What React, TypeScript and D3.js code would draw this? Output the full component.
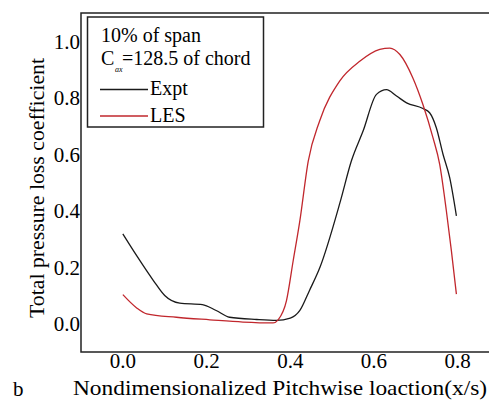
import React from "react";
import * as d3 from "d3";

const xTicks = [0.0, 0.2, 0.4, 0.6, 0.8];
const yTicks = [0.0, 0.2, 0.4, 0.6, 0.8, 1.0];

const exptX = [0, 0.033, 0.073, 0.1, 0.136, 0.19, 0.223, 0.255, 0.32, 0.367, 0.4, 0.423, 0.446, 0.471, 0.52, 0.546, 0.574, 0.606, 0.63, 0.654, 0.678, 0.717, 0.733, 0.749, 0.765, 0.781, 0.797];
const exptY = [0.318, 0.241, 0.153, 0.1, 0.073, 0.068, 0.047, 0.023, 0.015, 0.012, 0.02, 0.047, 0.118, 0.2, 0.435, 0.576, 0.682, 0.812, 0.829, 0.806, 0.782, 0.762, 0.747, 0.694, 0.6, 0.517, 0.382];

const lesX = [0, 0.033, 0.057, 0.128, 0.208, 0.287, 0.359, 0.371, 0.391, 0.407, 0.423, 0.443, 0.47, 0.518, 0.566, 0.614, 0.638, 0.662, 0.693, 0.717, 0.741, 0.757, 0.773, 0.785, 0.797];
const lesY = [0.103, 0.056, 0.035, 0.023, 0.014, 0.006, 0.003, 0.014, 0.082, 0.223, 0.365, 0.576, 0.717, 0.859, 0.929, 0.971, 0.976, 0.953, 0.87, 0.776, 0.659, 0.565, 0.4, 0.259, 0.105];

const FONT = '"Times New Roman"';

export default function App() {
  const W = 489, H = 401;
  const x = d3.scaleLinear().domain([-0.1, 0.9]).range([81, 81 + 418.5]);
  const y = d3.scaleLinear().domain([-0.1, 1.1]).range([352, 13]);
  const line = d3
    .line<[number, number]>()
    .x((d) => x(d[0]))
    .y((d) => y(d[1]))
    .curve(d3.curveMonotoneX);
  const exptPts = exptX.map((v, i) => [v, exptY[i]] as [number, number]);
  const lesPts = lesX.map((v, i) => [v, lesY[i]] as [number, number]);
  const ts = { fontFamily: FONT };

  return (
    <svg width={W} height={H} style={{ position: "absolute", left: 0, top: 0 }}>
      <rect x={0} y={0} width={W} height={H} fill="#fff" />
      <path
        d={`M${W + 2},${y(1.1)} H${x(-0.1)} V${y(-0.1)} H${W + 2}`}
        fill="none"
        stroke="#222"
        strokeWidth={1.5}
      />
      <path d={line(exptPts) || ""} fill="none" stroke="#1a1a1a" strokeWidth={1.3} />
      <path d={line(lesPts) || ""} fill="none" stroke="#c1272d" strokeWidth={1.3} />

      {yTicks.map((t) => (
        <text key={"y" + t} x={80} y={y(t)} dy="0.35em" textAnchor="end" fontSize={21} style={ts}>
          {t.toFixed(1)}
        </text>
      ))}
      {xTicks.map((t) => (
        <text key={"x" + t} x={x(t)} y={368} textAnchor="middle" fontSize={21} style={ts}>
          {t.toFixed(1)}
        </text>
      ))}

      <text x={73} y={395} fontSize={22} textLength={414} lengthAdjust="spacingAndGlyphs" style={ts}>
        Nondimensionalized Pitchwise loaction(x/s)
      </text>
      <text
        transform="translate(44,188) rotate(-90)"
        textAnchor="middle"
        fontSize={22}
        textLength={260}
        lengthAdjust="spacingAndGlyphs"
        style={ts}
      >
        Total pressure loss coefficient
      </text>
      <text x={13} y={396} fontSize={21} style={ts}>
        b
      </text>

      <rect x={87.5} y={17} width={176} height={110} fill="#fff" stroke="#222" strokeWidth={1.5} />
      <text x={101} y={41.5} fontSize={20} style={ts}>
        10% of span
      </text>
      <text x={101} y={65} fontSize={20} style={ts}>
        C
      </text>
      <text x={115} y={72} fontSize={8} fontStyle="italic" style={ts}>
        ax
      </text>
      <text x={122} y={65} fontSize={20} style={ts}>
        =128.5 of chord
      </text>
      <line x1={100} x2={148} y1={89.5} y2={89.5} stroke="#1a1a1a" strokeWidth={1.3} />
      <text x={150} y={95} fontSize={20} style={ts}>
        Expt
      </text>
      <line x1={100} x2={148} y1={116} y2={116} stroke="#c1272d" strokeWidth={1.3} />
      <text x={150} y={121.5} fontSize={20} style={ts}>
        LES
      </text>
    </svg>
  );
}
